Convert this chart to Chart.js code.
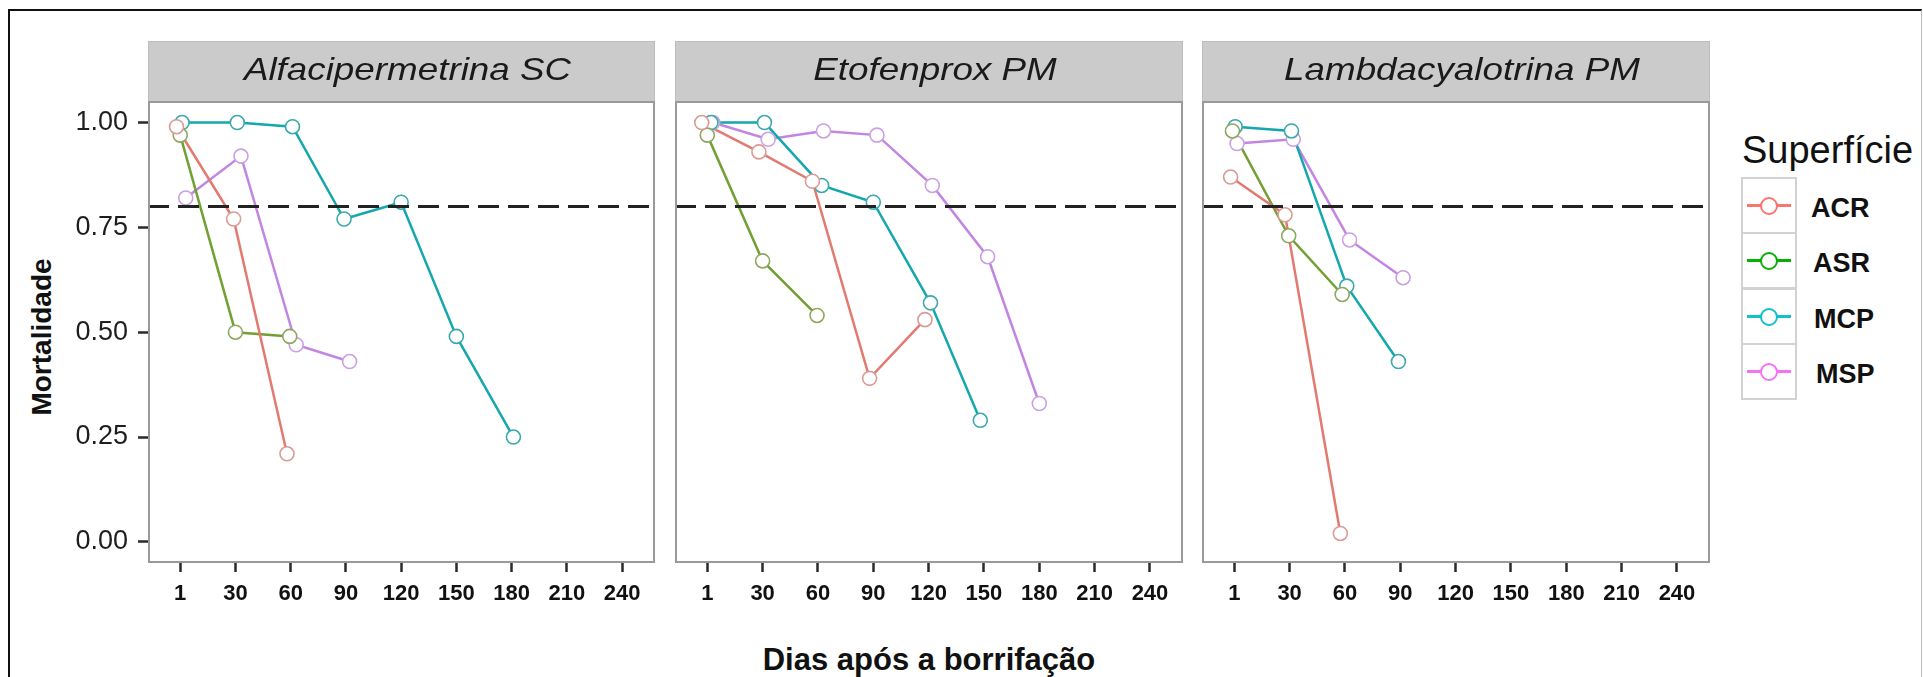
<!DOCTYPE html>
<html lang="pt">
<head>
<meta charset="utf-8">
<title>Mortalidade por superfície</title>
<script src="https://cdn.jsdelivr.net/npm/chart.js@4.4.1/dist/chart.umd.min.js"></script>
<style>
  html, body { margin: 0; padding: 0; background: #fff; }
  body { width: 1923px; height: 677px; position: relative; overflow: hidden; font-family: "Liberation Sans", Arial, sans-serif; }
  #frame { position: absolute; left: 8px; top: 9px; width: 1911px; height: 720px; border-left: 2px solid #111; border-top: 2px solid #111; border-right: 1px solid #bbb; }
  canvas { position: absolute; }
  .txt { position: absolute; white-space: nowrap; color: #111; }
  #ytitle { left: -108px; top: 323px; width: 300px; text-align: center; font-weight: bold; font-size: 28px; line-height: 28px; transform: rotate(-90deg); }
  #xtitle { left: 629px; top: 644px; width: 600px; text-align: center; font-weight: bold; font-size: 31px; line-height: 31px; }
  #legtitle { left: 1742px; top: 131px; font-size: 38px; line-height: 38px; }
  .key { position: absolute; left: 1741px; width: 56px; height: 57px; box-sizing: border-box; border: 2px solid #d2d2d2; background: #fff; }
  .key .ln { position: absolute; left: 4px; top: 25px; width: 44px; height: 3px; }
  .key .pt { position: absolute; left: 17px; top: 18px; width: 14px; height: 14px; border-radius: 50%; border: 2px solid; background: #fff; }
  .lab { font-weight: bold; font-size: 27px; line-height: 27px; }
</style>
</head>
<body>
<div id="frame"></div>
<canvas id="p0" width="595" height="590" style="left:60px;top:41px"></canvas>
<canvas id="p1" width="508" height="590" style="left:675px;top:41px"></canvas>
<canvas id="p2" width="508" height="590" style="left:1202px;top:41px"></canvas>
<div class="txt" id="ytitle">Mortalidade</div>
<div class="txt" id="xtitle">Dias após a borrifação</div>
<div class="txt" id="legtitle">Superfície</div>
<div id="legend"></div>
<script>
const panelTitles = ["Alfacipermetrina SC", "Etofenprox PM", "Lambdacyalotrina PM"];
const surfaces = ["ACR", "ASR", "MCP", "MSP"];
const dayTicks = [0, 30, 60, 90, 120, 150, 180, 210, 240];
const dayLabels = ["1", "30", "60", "90", "120", "150", "180", "210", "240"];
const mortalityTicks = [0, 0.25, 0.5, 0.75, 1];
const threshold = 0.8;

// Alfacipermetrina SC
const alfaAcrDays = [-2, 29, 58];
const alfaAcr = [0.99, 0.77, 0.21];
const alfaAsrDays = [0, 30, 59.5];
const alfaAsr = [0.97, 0.50, 0.49];
const alfaMcpDays = [1, 31, 61, 89, 120, 150, 181];
const alfaMcp = [1.00, 1.00, 0.99, 0.77, 0.81, 0.49, 0.25];
const alfaMspDays = [3, 33, 63, 92];
const alfaMsp = [0.82, 0.92, 0.47, 0.43];

// Etofenprox PM
const etoAcrDays = [-3, 28, 57, 88, 118];
const etoAcr = [1.00, 0.93, 0.86, 0.39, 0.53];
const etoAsrDays = [0, 30, 59.5];
const etoAsr = [0.97, 0.67, 0.54];
const etoMcpDays = [2, 31, 62, 90, 121, 148];
const etoMcp = [1.00, 1.00, 0.85, 0.81, 0.57, 0.29];
const etoMspDays = [3, 33, 63, 92, 122, 152, 180];
const etoMsp = [1.00, 0.96, 0.98, 0.97, 0.85, 0.68, 0.33];

// Lambdacyalotrina PM
const lambAcrDays = [-2, 27.5, 57.5];
const lambAcr = [0.87, 0.78, 0.02];
const lambAsrDays = [-1, 29.5, 58.5];
const lambAsr = [0.98, 0.73, 0.59];
const lambMcpDays = [0.5, 31, 61, 89];
const lambMcp = [0.99, 0.98, 0.61, 0.43];
const lambMspDays = [1.5, 32, 62.5, 91.5];
const lambMsp = [0.95, 0.96, 0.72, 0.63];

const panelData = [
  [[alfaAcrDays, alfaAcr], [alfaAsrDays, alfaAsr], [alfaMcpDays, alfaMcp], [alfaMspDays, alfaMsp]],
  [[etoAcrDays, etoAcr], [etoAsrDays, etoAsr], [etoMcpDays, etoMcp], [etoMspDays, etoMsp]],
  [[lambAcrDays, lambAcr], [lambAsrDays, lambAsr], [lambMcpDays, lambMcp], [lambMspDays, lambMsp]]
];

const lineColors = ["#E27A70", "#72A034", "#14A8AE", "#C286E2"];
const pointColors = ["#D99C95", "#8DA760", "#3BA8AD", "#C9A2E2"];
const legendColors = ["#F8766D", "#07B007", "#10C0CC", "#F472F7"];

const X_MIN = -17.5, X_MAX = 257.9;
const Y_MIN = -0.048, Y_MAX = 1.049;
const STRIP_H = 61;
const FONT = "'Liberation Sans', Arial, sans-serif";

const stripPlugin = {
  id: "strip",
  afterDraw(chart, args, opts) {
    const { ctx, chartArea: a } = chart;
    ctx.save();
    ctx.fillStyle = "#CBCBCB";
    ctx.fillRect(a.left, a.top - STRIP_H, a.right - a.left, STRIP_H);
    ctx.strokeStyle = "#bdbdbd";
    ctx.lineWidth = 1;
    ctx.strokeRect(a.left + 0.5, a.top - STRIP_H + 0.5, a.right - a.left - 1, STRIP_H);
    ctx.strokeStyle = "#9a9a9a";
    ctx.lineWidth = 2;
    ctx.strokeRect(a.left + 1, a.top, a.right - a.left - 2, a.bottom - a.top);
    ctx.translate((a.left + a.right) / 2 + 6, a.top - STRIP_H / 2);
    ctx.scale(1.15, 1);
    ctx.font = "italic 32px " + FONT;
    ctx.fillStyle = "#1a1a1a";
    ctx.textAlign = "center";
    ctx.textBaseline = "middle";
    ctx.fillText(opts.title, 0, 0);
    ctx.restore();
  }
};

function noPadding(sc) {
  sc.paddingLeft = 0;
  sc.paddingRight = 0;
  sc.paddingTop = 0;
  sc.paddingBottom = 0;
}

function makePanel(idx) {
  const datasets = [];
  panelData[idx].forEach(([days, vals], s) => {
    const pts = days.map((d, i) => ({ x: d, y: vals[i] }));
    datasets.push({
      label: surfaces[s],
      data: pts,
      showLine: true,
      borderColor: lineColors[s],
      borderWidth: 2.5,
      pointRadius: 0,
      order: 2
    });
    datasets.push({
      label: surfaces[s] + " pts",
      data: pts,
      showLine: false,
      pointRadius: 7,
      pointBorderWidth: 1.6,
      pointBorderColor: pointColors[s],
      pointBackgroundColor: "#fff",
      order: 1
    });
  });
  datasets.push({
    label: "limite",
    data: [{ x: X_MIN, y: threshold }, { x: X_MAX, y: threshold }],
    showLine: true,
    borderColor: "#222",
    borderWidth: 3,
    borderDash: [21, 9],
    pointRadius: 0,
    order: 0
  });

  const tickGrid = {
    drawOnChartArea: false,
    drawTicks: true,
    tickLength: 10,
    tickWidth: 2.5,
    tickColor: "#2a2a2a"
  };

  new Chart(document.getElementById("p" + idx), {
    type: "scatter",
    data: { datasets },
    options: {
      responsive: false,
      animation: false,
      devicePixelRatio: 1,
      events: [],
      layout: { autoPadding: false, padding: { top: STRIP_H, left: 0, right: 0, bottom: 0 } },
      plugins: {
        legend: { display: false },
        tooltip: { enabled: false },
        strip: { title: panelTitles[idx] }
      },
      scales: {
        x: {
          type: "linear",
          min: X_MIN,
          max: X_MAX,
          border: { display: false },
          grid: tickGrid,
          afterBuildTicks: (sc) => { sc.ticks = dayTicks.map(v => ({ value: v })); },
          afterFit: (sc) => { sc.height = 69; noPadding(sc); },
          ticks: {
            autoSkip: false,
            maxRotation: 0,
            padding: 9,
            color: "#111",
            font: { family: FONT, size: 22, weight: "bold" },
            callback: (v, i) => dayLabels[i]
          }
        },
        y: {
          type: "linear",
          display: idx === 0,
          min: Y_MIN,
          max: Y_MAX,
          border: { display: false },
          grid: tickGrid,
          afterBuildTicks: (sc) => { sc.ticks = mortalityTicks.map(v => ({ value: v })); },
          afterFit: (sc) => { if (idx === 0) sc.width = 88; noPadding(sc); },
          ticks: {
            autoSkip: false,
            padding: 10,
            color: "#1e1e1e",
            font: { family: FONT, size: 27 },
            callback: (v) => Number(v).toFixed(2)
          }
        }
      }
    },
    plugins: [stripPlugin]
  });
}

[0, 1, 2].forEach(makePanel);

// legend
const legend = document.getElementById("legend");
const labelLeft = [1811, 1813, 1814, 1816];
surfaces.forEach((name, i) => {
  const top = 177 + i * 55.3;
  const key = document.createElement("div");
  key.className = "key";
  key.style.top = top + "px";
  key.innerHTML = `<div class="ln" style="background:${legendColors[i]}"></div>` +
    `<div class="pt" style="border-color:${legendColors[i]}"></div>`;
  legend.appendChild(key);
  const lab = document.createElement("div");
  lab.className = "txt lab";
  lab.textContent = name;
  lab.style.left = labelLeft[i] + "px";
  lab.style.top = (top + 18) + "px";
  legend.appendChild(lab);
});
</script>
</body>
</html>
